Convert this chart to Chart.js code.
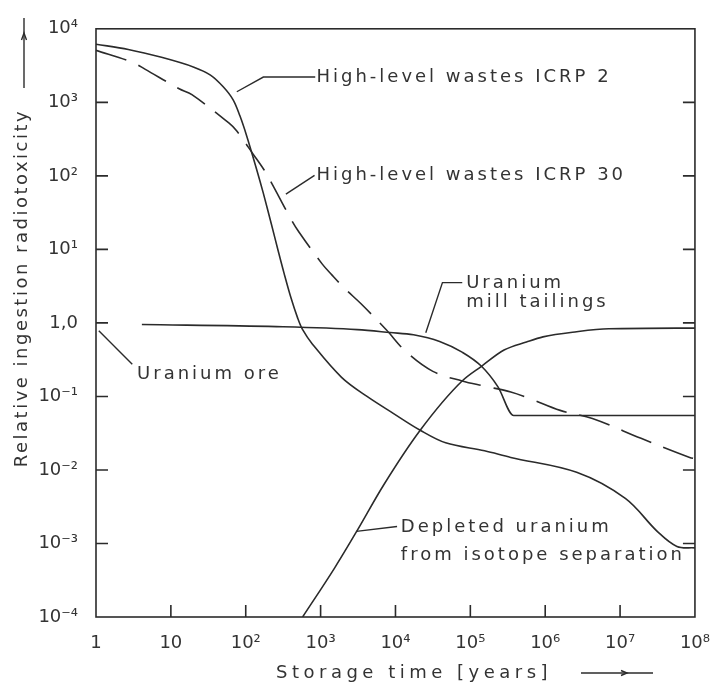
<!DOCTYPE html>
<html><head><meta charset="utf-8">
<script src="https://cdn.jsdelivr.net/npm/chart.js@4/dist/chart.umd.min.js"></script>
<style>html,body{margin:0;padding:0;background:#fff}</style>
</head><body>
<canvas id="c" width="726" height="690" style="width:726px;height:690px;display:block"></canvas>
<script>
// ---- axis ticks ----
const xTicks = [1, 10, 1e2, 1e3, 1e4, 1e5, 1e6, 1e7, 1e8];
const xTickLabels = ['1', '10', '10²', '10³', '10⁴', '10⁵', '10⁶', '10⁷', '10⁸'];
const yTicks = [1e-4, 1e-3, 1e-2, 1e-1, 1, 10, 1e2, 1e3, 1e4];
const yTickLabels = ['10⁻⁴', '10⁻³', '10⁻²', '10⁻¹', '1,0', '10¹', '10²', '10³', '10⁴'];

// ---- series (storage time in years, relative ingestion radiotoxicity) ----
const icrp2Years  = [1, 2.7, 7.5, 20.3, 33.8, 50, 67.6, 83.6, 103, 139, 172, 219, 270, 324, 399, 493, 573, 774, 1905, 4170, 9330, 21400, 46800, 155000, 347000, 2630000, 11750000, 31600000, 57500000, 100000000];
const icrp2Values = [6170, 5240, 4090, 3010, 2350, 1630, 1090, 655, 349, 125, 57.7, 22.5, 9.73, 4.79, 2.25, 1.17, 0.815, 0.518, 0.182, 0.1, 0.0589, 0.0347, 0.0234, 0.0182, 0.0148, 0.0093, 0.0041, 0.00145, 0.00091, 0.00087];

const icrp30Years  = [1, 3.05, 4.5, 12.9, 19.1, 60, 76, 127, 177, 219, 399, 508, 1047, 1413, 2090, 3470, 7590, 13800, 31600, 77600, 155000, 347000, 631000, 1585000, 4270000, 19050000, 85100000, 100000000];
const icrp30Values = [5100, 3510, 2830, 1530, 1270, 520, 406, 194, 119, 81.8, 26.2, 17.5, 6.35, 4.5, 2.95, 1.82, 0.80, 0.407, 0.219, 0.162, 0.138, 0.115, 0.093, 0.0646, 0.0501, 0.0269, 0.0148, 0.0143];

const millYears  = [4.1, 257, 3090, 8510, 17400, 38900, 77600, 141000, 234000, 380000, 100000000];
const millValues = [0.95, 0.89, 0.81, 0.74, 0.69, 0.56, 0.40, 0.257, 0.135, 0.055, 0.055];

const depletedYears  = [575, 1550, 3020, 6920, 21400, 77600, 141000, 282000, 562000, 933000, 2630000, 7080000, 100000000];
const depletedValues = [0.0001, 0.00047, 0.00145, 0.0062, 0.0347, 0.162, 0.257, 0.427, 0.55, 0.646, 0.759, 0.832, 0.85];

// ---- annotation texts & leader lines (data coordinates) ----
const labelTexts = [
  {t: 'High-level wastes ICRP 2', x: 880, y: 2208},
  {t: 'High-level wastes ICRP 30', x: 880, y: 101.6},
  {t: 'Uranium', x: 88000, y: 3.43},
  {t: 'mill tailings', x: 88000, y: 1.91},
  {t: 'Uranium ore', x: 3.54, y: 0.201},
  {t: 'Depleted uranium', x: 11800, y: 0.00165},
  {t: 'from isotope separation', x: 11800, y: 0.000697}
];
const leaderLines = [
  [[76, 1393], [172, 2208], [848, 2208]],
  [[344, 56.5], [830, 101.6]],
  [[25400, 0.735], [42400, 3.53], [78000, 3.53]],
  [[1.09, 0.78], [3.05, 0.274]],
  [[3000, 0.00146], [10500, 0.0017]]
];

const INK = '#2b2b2b';
const FONT = "'DejaVu Sans', sans-serif";

function pts(xs, ys) { return xs.map((x, i) => ({x: x, y: ys[i]})); }

const overlay = {
  id: 'overlay',
  afterDatasetsDraw(chart) {
    const ctx = chart.ctx, a = chart.chartArea;
    const xs = chart.scales.x, ys = chart.scales.y;
    ctx.save();
    ctx.strokeStyle = INK; ctx.fillStyle = INK; ctx.lineWidth = 1.6; ctx.lineCap = 'butt';
    // frame
    ctx.strokeRect(a.left, a.top, a.right - a.left, a.bottom - a.top);
    // inward ticks
    ctx.beginPath();
    yTicks.forEach((v, i) => {
      if (i === 0 || i === yTicks.length - 1) return;
      const p = ys.getPixelForValue(v);
      ctx.moveTo(a.left, p); ctx.lineTo(a.left + 12, p);
      ctx.moveTo(a.right, p); ctx.lineTo(a.right - 12, p);
    });
    xTicks.forEach((v, i) => {
      if (i === 0 || i === xTicks.length - 1) return;
      const p = xs.getPixelForValue(v);
      ctx.moveTo(p, a.bottom); ctx.lineTo(p, a.bottom - 12);
    });
    ctx.stroke();
    // leader lines
    ctx.lineWidth = 1.4;
    leaderLines.forEach(l => {
      ctx.beginPath();
      l.forEach((p, i) => {
        const px = xs.getPixelForValue(p[0]), py = ys.getPixelForValue(p[1]);
        if (i === 0) ctx.moveTo(px, py); else ctx.lineTo(px, py);
      });
      ctx.stroke();
    });
    // labels
    ctx.font = '18px ' + FONT;
    ctx.textBaseline = 'middle'; ctx.textAlign = 'left';
    ctx.letterSpacing = '3px';
    ctx.fillStyle = '#333';
    labelTexts.forEach(l => {
      ctx.fillText(l.t, xs.getPixelForValue(l.x), ys.getPixelForValue(l.y));
    });
    // x title
    ctx.letterSpacing = '4.5px';
    ctx.fillText('Storage time [years]', 276, 673);
    ctx.beginPath(); ctx.moveTo(581, 673); ctx.lineTo(653, 673); ctx.stroke();
    ctx.beginPath(); ctx.moveTo(621, 670.5); ctx.lineTo(627, 673); ctx.lineTo(621, 675.5); ctx.stroke();
    // y title
    ctx.save();
    ctx.translate(22, 288); ctx.rotate(-Math.PI / 2);
    ctx.textAlign = 'center';
    ctx.letterSpacing = '2.5px';
    ctx.fillText('Relative ingestion radiotoxicity', 0, 0);
    ctx.restore();
    ctx.beginPath(); ctx.moveTo(24, 88); ctx.lineTo(24, 18); ctx.stroke();
    ctx.beginPath(); ctx.moveTo(21.5, 40); ctx.lineTo(24, 33); ctx.lineTo(26.5, 40); ctx.stroke();
    ctx.restore();
  }
};

const lineDs = (label, data, dash, smooth) => Object.assign({
  label, data, showLine: true, pointRadius: 0, borderColor: INK, borderWidth: 1.6,
  borderDash: dash || [], fill: false
}, smooth ? {cubicInterpolationMode: 'default', tension: 0.35} : {cubicInterpolationMode: 'monotone'});

new Chart(document.getElementById('c'), {
  type: 'scatter',
  data: {
    datasets: [
      lineDs('High-level wastes ICRP 2', pts(icrp2Years, icrp2Values), null, true),
      lineDs('High-level wastes ICRP 30', pts(icrp30Years, icrp30Values), [32, 13], true),
      lineDs('Uranium mill tailings', pts(millYears, millValues)),
      lineDs('Depleted uranium from isotope separation', pts(depletedYears, depletedValues))
    ]
  },
  options: {
    responsive: false, animation: false, devicePixelRatio: 1,
    layout: {padding: {left: 0, right: 18, top: 19, bottom: 0}},
    plugins: {legend: {display: false}, tooltip: {enabled: false}},
    scales: {
      x: {
        type: 'logarithmic', min: 1, max: 1e8,
        afterBuildTicks: s => { s.ticks = xTicks.map(v => ({value: v})); },
        afterFit: s => { s.height = 73; },
        grid: {display: false, drawTicks: false}, border: {display: false},
        ticks: {
          autoSkip: false, maxRotation: 0, padding: 16, color: '#333',
          font: {family: FONT, size: 18},
          callback: v => xTickLabels[xTicks.indexOf(v)]
        }
      },
      y: {
        type: 'logarithmic', min: 1e-4, max: 1e4,
        afterBuildTicks: s => { s.ticks = yTicks.map(v => ({value: v})); },
        afterFit: s => { s.width = 96; },
        grid: {display: false, drawTicks: false}, border: {display: false},
        ticks: {
          autoSkip: false, padding: 18, color: '#333',
          font: {family: FONT, size: 18},
          callback: v => yTickLabels[yTicks.indexOf(v)]
        }
      }
    }
  },
  plugins: [overlay]
});
</script>
</body></html>
